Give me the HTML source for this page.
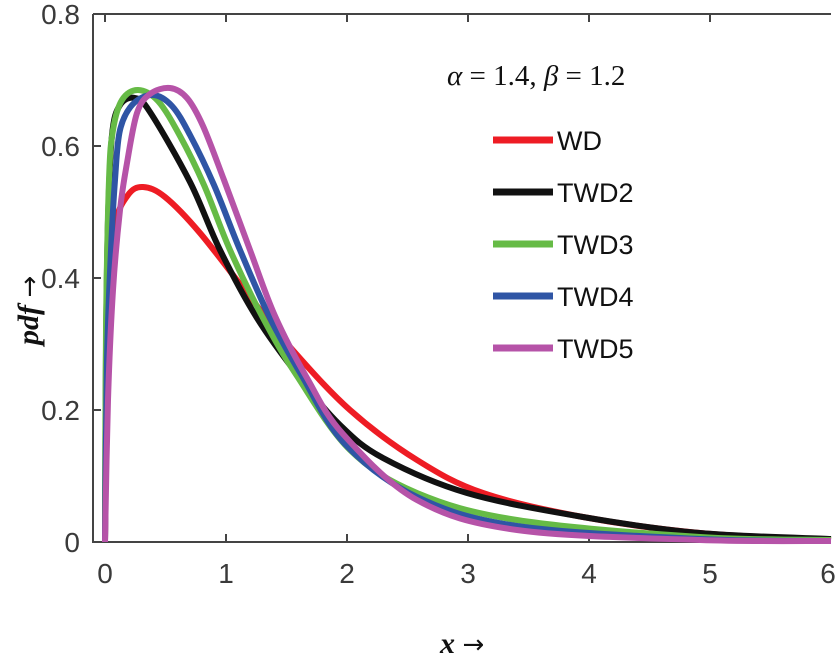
<!DOCTYPE html>
<html><head><meta charset="utf-8"><style>
html,body{margin:0;padding:0;background:#fff;}
svg{display:block;}
.t{font-family:"Liberation Sans",sans-serif;font-size:28px;fill:#3a3a3a;}
.l{font-family:"Liberation Sans",sans-serif;font-size:27px;fill:#111;}
</style></head><body>
<svg id="s" width="837" height="659" viewBox="0 0 837 659" xmlns="http://www.w3.org/2000/svg">
<rect width="837" height="659" fill="#fff"/>
<g stroke="#444" stroke-width="2" fill="none">
<path d="M93,14 H831 M93,14 V542 H831"/>
<path d="M105,542 v-8 M226,542 v-8 M347,542 v-8 M468,542 v-8 M589,542 v-8 M710,542 v-8 M105,14 v8 M226,14 v8 M347,14 v8 M468,14 v8 M589,14 v8 M710,14 v8
M93,410 h8 M93,278 h8 M93,146 h8"/>
</g>
<g class="t" text-anchor="middle">
<text x="105" y="583">0</text><text x="226" y="583">1</text><text x="347" y="583">2</text><text x="468" y="583">3</text><text x="589" y="583">4</text><text x="710" y="583">5</text><text x="828" y="583">6</text>
</g>
<g class="t" text-anchor="end">
<text x="80" y="552">0</text><text x="80" y="420">0.2</text><text x="80" y="288">0.4</text><text x="80" y="156">0.6</text><text x="80" y="24">0.8</text>
</g>
<text x="440" y="653" font-family="Liberation Serif,serif" font-size="30" font-style="italic" font-weight="bold" fill="#111">x <tspan font-style="normal" font-weight="normal" font-family="DejaVu Sans,sans-serif" font-size="26">→</tspan></text>
<text transform="translate(38,345) rotate(-90)" font-family="Liberation Serif,serif" font-size="30" font-style="italic" font-weight="bold" fill="#111">pdf <tspan font-style="normal" font-weight="normal" font-family="DejaVu Sans,sans-serif" font-size="26">→</tspan></text>
<text x="447" y="85" font-family="Liberation Serif,serif" font-size="29" fill="#111"><tspan font-style="italic">α</tspan> = 1.4, <tspan font-style="italic">β</tspan> = 1.2</text>
<g id="curves" fill="none" stroke-width="6" stroke-linejoin="round" stroke-linecap="butt"></g>
<g stroke-width="7">
<line x1="493" y1="140" x2="553" y2="140" stroke="#ee1c24"/>
<line x1="493" y1="192" x2="553" y2="192" stroke="#111"/>
<line x1="493" y1="244" x2="553" y2="244" stroke="#66bb46"/>
<line x1="493" y1="296" x2="553" y2="296" stroke="#2f55a5"/>
<line x1="493" y1="348" x2="553" y2="348" stroke="#b653a8"/>
</g>
<g class="l">
<text x="557" y="150">WD</text><text x="557" y="202">TWD2</text><text x="557" y="254">TWD3</text><text x="557" y="306">TWD4</text><text x="557" y="358">TWD5</text>
</g>
</svg>
<script>
var data=[
["#ee1c24",[[105,542],[108,300],[115,225],[128,195],[143,187],[165,197],[200,233],[250,297],[290,347],[350,410],[417,460],[483,493],[583,517],[700,533],[831,540]]],
["#111",[[105,542],[106,350],[108,220],[112,135],[120,105],[135,98],[150,112],[190,182],[220,250],[257,318],[300,378],[340,425],[383,458],[467,493],[583,517],[700,533],[831,539]]],
["#66bb46",[[105,542],[106,330],[109,180],[113,130],[122,100],[138,90],[158,101],[180,136],[204,185],[230,250],[263,318],[297,376],[350,450],[417,493],[517,520],[700,537],[831,540]]],
["#2f55a5",[[105,542],[107,360],[111,250],[115,180],[120,130],[133,104],[153,95],[172,106],[190,135],[214,185],[240,250],[270,318],[302,376],[345,444],[417,497],[517,526],[700,539],[831,541]]],
["#b653a8",[[105,542],[108,400],[113,290],[120,210],[127,163],[137,113],[150,94],[170,88],[187,98],[203,126],[224,180],[250,250],[275,316],[307,378],[343,434],[417,500],[517,530],[700,540],[831,541]]]
];
var g=document.getElementById("curves");
data.forEach(function(s){
 var p=s[1],d="M"+p[0][0]+","+p[0][1];
 for(var i=0;i<p.length-1;i++){
  var p0=p[Math.max(0,i-1)],p1=p[i],p2=p[i+1],p3=p[Math.min(p.length-1,i+2)];
  var c1x=p1[0]+(p2[0]-p0[0])/6,c1y=p1[1]+(p2[1]-p0[1])/6;
  var c2x=p2[0]-(p3[0]-p1[0])/6,c2y=p2[1]-(p3[1]-p1[1])/6;
  d+=" C"+c1x+","+c1y+" "+c2x+","+c2y+" "+p2[0]+","+p2[1];
 }
 var e=document.createElementNS("http://www.w3.org/2000/svg","path");
 e.setAttribute("d",d);e.setAttribute("stroke",s[0]);g.appendChild(e);
});
</script>
</body></html>
